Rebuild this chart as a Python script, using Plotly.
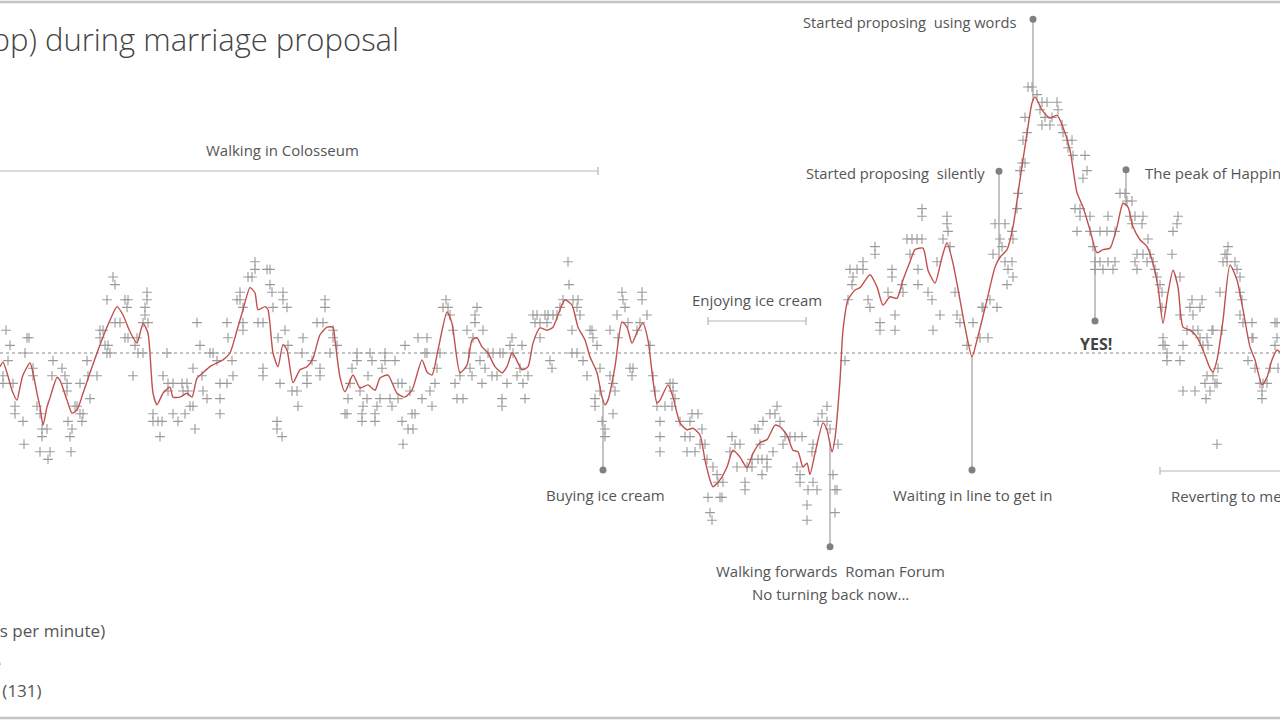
import numpy as np
import plotly.graph_objects as go

# ---------------- data ----------------
# time (seconds) and smoothed heart rate (moving average, bpm)
line_time = [0, 3, 7, 12, 17, 20, 23, 30, 33, 37, 40, 43, 47, 50, 53, 57, 60, 67, 72, 77, 83, 90, 97, 103, 110,
             117, 123, 130, 137, 143, 148, 153, 157, 163, 170, 173, 180, 187, 192, 197, 203, 210, 217, 223, 230,
             237, 243, 250, 255, 258, 265, 268, 273, 278, 283, 287, 293, 300, 307, 313, 320, 327, 333, 335, 340,
             345, 353, 360, 368, 375, 380, 388, 397, 405, 412, 422, 427, 432, 438, 447, 452, 460, 467, 472, 477,
             482, 488, 495, 502, 507, 512, 515, 522, 528, 533, 540, 547, 553, 560, 565, 572, 578, 585, 590, 597,
             602, 605, 608, 615, 622, 627, 632, 638, 643, 648, 653, 657, 660, 668, 673, 680, 687, 693, 700, 705,
             710, 713, 720, 727, 733, 740, 747, 753, 760, 767, 775, 780, 787, 793, 798, 803, 807, 810, 815, 823,
             827, 832, 835, 840, 843, 848, 855, 860, 870, 877, 883, 890, 897, 903, 910, 915, 923, 928, 935, 942,
             947, 953, 960, 965, 972, 977, 987, 995, 1000, 1007, 1013, 1020, 1027, 1032, 1035, 1042, 1050, 1057,
             1063, 1070, 1077, 1083, 1090, 1097, 1103, 1110, 1117, 1123, 1128, 1133, 1140, 1147, 1153, 1158, 1163,
             1168, 1173, 1178, 1183, 1190, 1197, 1203, 1210, 1213, 1217, 1223, 1230, 1237, 1243, 1250, 1255, 1262,
             1267, 1272, 1277, 1280]
line_bpm = [129.2, 129.8, 128.4, 126.1, 124.8, 126.5, 128.1, 129.7, 128.4, 125.7, 123.9, 121.5, 123.9, 125.1,
            126.4, 127.8, 127.4, 124.8, 123.1, 123.5, 125.7, 128.4, 131.0, 133.1, 135.3, 137.1, 136.0, 133.8,
            132.3, 134.9, 133.6, 125.7, 124.2, 125.7, 126.5, 125.2, 125.2, 125.7, 125.2, 127.7, 128.4, 129.2,
            129.7, 130.1, 131.0, 134.0, 136.7, 139.6, 138.9, 136.7, 137.1, 136.7, 131.0, 129.2, 132.1, 131.4,
            127.1, 128.8, 129.2, 130.3, 133.4, 134.4, 134.4, 132.7, 127.8, 125.9, 128.1, 126.4, 126.8, 126.1,
            127.7, 128.1, 125.7, 125.2, 126.1, 130.1, 128.5, 128.1, 131.4, 136.4, 134.9, 128.4, 129.4, 132.7,
            133.0, 131.8, 131.0, 129.2, 128.4, 129.2, 131.0, 130.5, 128.8, 129.2, 132.3, 134.3, 134.0, 134.4,
            136.7, 138.0, 137.3, 134.4, 132.7, 130.5, 128.4, 125.2, 124.2, 124.8, 129.2, 135.1, 134.4, 132.3,
            134.0, 134.9, 132.7, 127.4, 124.4, 124.8, 126.8, 125.2, 121.8, 120.9, 121.1, 120.2, 116.9, 114.3,
            113.4, 114.3, 116.0, 118.2, 117.3, 115.9, 117.8, 119.2, 119.6, 121.5, 121.3, 120.2, 118.2, 118.0,
            116.0, 116.5, 115.0, 117.8, 121.8, 120.9, 118.0, 119.8, 127.4, 134.0, 138.0, 139.3, 139.6, 141.3,
            139.7, 137.3, 138.4, 138.2, 140.6, 143.0, 144.6, 144.8, 141.9, 140.2, 143.6, 145.5, 142.8, 138.0,
            134.4, 130.5, 132.7, 138.0, 142.3, 143.6, 144.6, 147.6, 153.8, 159.9, 163.9, 164.7, 163.0, 161.9,
            162.3, 160.7, 157.7, 152.1, 150.2, 147.2, 144.2, 144.6, 144.8, 147.6, 150.7, 150.2, 147.6, 145.9,
            145.0, 142.8, 139.7, 134.9, 138.9, 141.9, 139.7, 134.4, 134.0, 133.1, 131.4, 129.0, 128.5, 130.1,
            135.3, 142.6, 140.6, 136.7, 131.8, 130.1, 126.8, 127.8, 130.1, 131.4, 131.1]

# individual heart-rate readings (bpm)
reading_time = [6, 3, 3, 10, 8, 13, 15, 15, 23, 24, 27, 29, 25, 33, 33, 37, 40, 42, 47, 42, 40, 50, 48, 53, 52,
                62, 65, 67, 67, 68, 72, 70, 71, 75, 77, 80, 83, 82, 80, 87, 88, 97, 90, 100, 103, 100, 105, 108,
                107, 110, 107, 113, 115, 115, 120, 125, 128, 127, 125, 128, 133, 135, 138, 143, 137, 143, 148, 147,
                147, 145, 145, 153, 153, 158, 162, 160, 163, 167, 168, 173, 168, 173, 178, 182, 187, 183, 188, 185,
                190, 193, 193, 195, 197, 200, 202, 203, 207, 210, 213, 217, 220, 227, 220, 220, 227, 228, 232, 233,
                237, 240, 240, 243, 243, 243, 248, 252, 255, 255, 267, 270, 270, 272, 273, 258, 263, 263, 263, 278,
                277, 277, 282, 283, 283, 287, 285, 288, 280, 292, 297, 298, 302, 303, 307, 307, 312, 317, 323, 325,
                325, 320, 320,
                333, 333, 337, 330, 345, 347, 348, 350, 352, 357, 357, 360, 362, 362, 363, 367, 368, 370, 372, 375,
                375, 377, 380, 382, 385, 385, 390, 392, 395, 398, 402, 398, 402, 403, 405, 408, 413, 410, 412, 415,
                418, 422, 425, 427, 427, 430, 432, 435, 437, 440, 443, 448, 446, 450, 453, 455, 457, 463, 460, 467,
                469, 470, 472, 475, 475, 477, 473, 480, 482, 483, 485, 488, 493, 492, 497, 500, 503, 502, 502, 507,
                510, 512, 513, 517, 520, 522, 523, 525, 528, 533, 537, 535, 540, 540, 545, 548, 547, 550, 552, 553,
                557, 560, 563, 568, 569, 573, 578, 577, 580, 572, 572, 577, 583, 587, 590, 592, 593, 597, 600, 600,
                595, 595, 602, 605, 605, 610, 610, 613, 615, 613, 617, 618, 622, 623, 625, 628, 630, 633, 632, 637,
                640, 642, 642, 647, 650, 653, 655, 657, 660,
                660, 660, 665, 672, 670, 673, 673, 675, 680, 685, 690, 687, 690, 692, 698, 695, 702, 700, 705, 707,
                708, 710, 712, 713, 717, 720, 722, 718, 723, 730, 732, 735, 740, 737, 745, 745, 747, 752, 752, 758,
                762, 767, 755, 758, 760, 762, 763, 767, 770, 775, 777, 780, 773, 785, 790, 795, 783, 802, 797, 800,
                800, 807, 807, 808, 817, 813, 812, 813, 818, 827, 822, 827, 830, 833, 835, 837, 835, 838,
                845, 848, 850, 852, 853, 857,
                863, 863, 875, 875, 868, 870, 880, 880, 888, 892, 892, 895, 895, 902, 903, 907, 912, 917, 922, 922,
                922, 910, 918, 918, 928, 932, 933, 937, 940, 943, 947, 947, 948, 950, 955, 957, 960, 967, 973, 980,
                988, 982, 983, 990, 997, 993, 995, 1000, 1002, 1005, 1005, 1008, 1007, 1012, 1013, 1012, 1013, 1017,
                1018, 1022, 1025, 1020, 1023, 1027, 1025, 1028, 1032, 1037, 1042, 1047, 1040, 1045, 1052, 1042, 1050,
                1057, 1058, 1062, 1063, 1067, 1072, 1068, 1073, 1085, 1087, 1083, 1075, 1080, 1080, 1090, 1077, 1090,
                1093, 1095, 1100, 1108, 1115, 1095, 1103, 1113, 1100, 1107, 1115, 1108, 1120, 1125, 1127, 1132, 1130,
                1135, 1132, 1142, 1143, 1137, 1143, 1150, 1135, 1147, 1153, 1137, 1148, 1155, 1157, 1160, 1162, 1162,
                1163, 1163, 1167, 1172, 1173, 1177, 1178, 1180, 1180, 1183, 1187, 1193, 1190, 1200, 1192, 1202, 1193,
                1198, 1200, 1207, 1203, 1208, 1212, 1220, 1223, 1227, 1235, 1225, 1227, 1228, 1237, 1240, 1240, 1242,
                1240, 1243, 1252, 1253, 1277, 1277,
                1165, 1167, 1180, 1183, 1195, 1205, 1215, 1207, 1213, 1210, 1206, 1217, 1218, 1217, 1213, 1222, 1248,
                1252, 1255, 1260, 1263, 1262, 1262, 1267, 1270, 1275, 1275, 1278]
reading_bpm = [134, 128, 127, 132, 130, 127, 124, 123, 122, 119, 133, 133, 131, 129, 128, 124, 123, 121, 121, 120,
               118, 118, 117, 130, 128, 129, 128, 127, 126, 122, 121, 120, 118, 124, 124, 123, 123, 122, 127, 130,
               128, 128, 125, 134, 134, 133, 132, 132, 131, 131, 138, 141, 140, 135, 135, 138, 138, 137, 133, 133,
               128, 132, 131, 131, 133, 135, 135, 139, 138, 137, 136, 123, 122, 122, 122, 120, 128, 131, 127, 127,
               126, 123, 122, 127, 127, 126, 126, 123, 124, 124, 129, 121, 135, 132, 128, 126, 125, 131, 131, 130,
               127, 127, 125, 123, 135, 133, 130, 128, 138, 138, 139, 137, 135, 134, 141, 141, 142, 143, 142, 142,
               140, 139, 137, 135, 135, 129, 128, 133, 122, 121, 120, 139, 138, 137, 134, 132, 127, 126, 126, 124,
               131, 133, 128, 127, 130, 135, 135, 138, 137, 129, 128,
               134, 133, 132, 131, 123, 123, 125, 127, 129, 131, 130, 126, 123, 122, 124, 125, 128, 131, 130, 123,
               122, 124, 125, 129, 131, 130, 125, 124, 130, 127, 127, 125, 122, 119, 132, 121, 121, 126, 123, 123,
               133, 125, 131, 131, 133, 126, 124, 127, 129, 131, 137, 137, 138, 136, 134, 127, 125, 125, 128, 134,
               131, 129, 128, 135, 136, 137, 133, 130, 127, 134, 129, 131, 131, 128, 128, 131, 131, 125, 124, 127,
               132, 133, 131, 128, 129, 132, 127, 125, 128, 136, 136, 135, 135, 133, 136, 136, 135, 130, 129, 136,
               136, 137, 138, 143, 140, 138, 138, 137, 136, 134, 131, 131, 130, 128, 134, 134, 133, 132, 129, 126,
               125, 124, 122, 121, 120, 134, 128, 127, 126, 123, 136, 133, 139, 138, 137, 135, 129, 129, 128, 134,
               135, 139, 138, 136, 132, 128, 126, 124, 120,
               122, 118, 124, 124, 127, 127, 126, 125, 122, 120, 120, 118, 122, 123, 123, 118, 121, 119, 119, 117,
               112, 110, 109, 116, 115, 112, 112, 114, 114, 118, 120, 119, 119, 116, 114, 113, 116, 116, 117, 117,
               117, 117, 121, 121, 119, 115, 122, 116, 123, 123, 124, 122, 118, 120, 120, 120, 119, 120, 116, 115,
               114, 111, 109, 113, 113, 114, 118, 119, 122, 122, 123, 124, 121, 115, 113, 113, 110, 119,
               130, 138, 142, 140, 141, 142,
               143, 142, 145, 144, 138, 137, 135, 134, 139, 142, 141, 136, 134, 140, 139, 146, 146, 146, 146, 150,
               149, 144, 142, 140, 139, 138, 134, 143, 136, 146, 149, 148, 147, 145, 139, 136, 135, 132, 135, 133,
               133, 137, 137, 138, 137, 144, 148, 146, 145, 148, 143, 142, 140, 143, 141, 147, 146, 150,
               152, 156, 156, 155, 159, 160, 162, 166, 166, 165, 164, 164, 163, 162, 162, 161, 161,
               164, 163, 161, 160, 159, 159, 158, 157, 157, 155, 154, 150, 150, 149, 149, 147, 147,
               145, 143, 143, 143, 143, 142, 142, 142, 147, 147, 147, 149, 152, 152, 151, 151, 149,
               149, 148, 148, 149, 144, 144, 144, 143, 143, 143, 142, 146, 142, 141, 140, 139, 137,
               133, 132, 131, 144, 147, 148, 149, 141, 136, 132, 134, 134, 137, 137, 138, 138, 136,
               134, 133, 133, 132, 132, 134, 139, 143, 143, 143, 144, 144, 145, 142, 141, 139, 138,
               136, 135, 135, 133, 135, 133,
               132, 130, 130, 126, 126, 127, 127, 128, 128, 126, 125, 127, 129, 119, 134, 134, 130,
               133, 129, 127, 127, 126, 125, 127, 129, 135, 132, 129]

average_bpm = 131

# events: (time, label level in bpm)
event_names = ["Buying ice cream", "Walking forwards  Roman Forum", "Waiting in line to get in",
               "Started proposing  silently", "Started proposing  using words", "YES!", "The peak of Happiness"]
event_time = [603, 830, 972, 999, 1033, 1095, 1126]
event_level = [115.6, 105.5, 115.6, 154.9, 174.9, 135.2, 155.1]

# ---------------- figure ----------------
W, H = 1280, 720
Y_BOTTOM = average_bpm - (H - 353) / 7.6
Y_TOP = average_bpm + 353 / 7.6


def py(p):
    """pixel row -> paper y"""
    return 1 - p / H


GRAY_TEXT = "#555555"
FONT = "Open Sans"

fig = go.Figure()

# event stems
shapes = []
for t, lvl in zip(event_time, event_level):
    val = float(np.interp(t, line_time, line_bpm))
    shapes.append(dict(type="line", xref="x", yref="y", x0=t, x1=t, y0=lvl, y1=val,
                       line=dict(color="#b0b0b0", width=1.5), layer="below"))

# average dotted line
shapes.append(dict(type="line", xref="paper", yref="y", x0=0, x1=1, y0=average_bpm, y1=average_bpm,
                   line=dict(color="#888888", width=1, dash="dot"), layer="below"))

# period brackets (colosseum, ice cream, reverting)
def bracket(x0, x1, p, tick0=True, tick1=True):
    out = [dict(type="line", xref="x", yref="paper", x0=x0, x1=x1, y0=py(p), y1=py(p),
                line=dict(color="#b5b5b5", width=1.2))]
    for flag, x in ((tick0, x0), (tick1, x1)):
        if flag:
            out.append(dict(type="line", xref="x", yref="paper", x0=x, x1=x, y0=py(p - 4), y1=py(p + 4),
                            line=dict(color="#b5b5b5", width=1.2)))
    return out

shapes += bracket(-40, 598, 171, tick0=False)
shapes += bracket(708, 806, 321)
shapes += bracket(1160, 1320, 471, tick1=False)

# frame lines
shapes.append(dict(type="line", xref="paper", yref="paper", x0=0, x1=1, y0=py(2), y1=py(2),
                   line=dict(color="#c4c4c4", width=2.5)))
shapes.append(dict(type="line", xref="paper", yref="paper", x0=0, x1=1, y0=py(718), y1=py(718),
                   line=dict(color="#c4c4c4", width=2.5)))

fig.add_trace(go.Scatter(x=reading_time, y=reading_bpm, mode="markers",
                         marker=dict(symbol="cross-thin", size=7, color="#9a9a9a",
                                     line=dict(color="#9a9a9a", width=1.1)),
                         hoverinfo="skip", showlegend=False))
fig.add_trace(go.Scatter(x=line_time, y=line_bpm, mode="lines",
                         line=dict(color="#c0504d", width=1.4, shape="spline", smoothing=0.6),
                         hoverinfo="skip", showlegend=False))
fig.add_trace(go.Scatter(x=event_time, y=event_level, mode="markers",
                         marker=dict(size=7, color="#808080"), hoverinfo="skip", showlegend=False))

ann = []
def label(text, x, p, anchor="center", size=15, weight=400, color=GRAY_TEXT):
    ann.append(dict(text=text, x=x, y=py(p), xref="x", yref="paper", xanchor=anchor, yanchor="middle",
                    showarrow=False, font=dict(family=FONT, size=size, color=color, weight=weight)))

label("Heart rate (bp) during marriage proposal", 401, 39, "right", size=31, weight=300, color="#444444")
label("Heart rate (beats per minute)", 107, 630, "right", size=17)
label("Moving average", 3, 662, "right", size=17)
label("Average (131)", 44, 690, "right", size=17)

label("Walking in Colosseum", 282, 150)
label("Enjoying ice cream", 757, 300)
label("Buying ice cream", 605, 495)
label("Walking forwards  Roman Forum", 830, 571)
label("No turning back now...", 830, 594)
label("Waiting in line to get in", 972, 495)
label("Reverting to mean", 1169, 496, "left")
label("Started proposing  using words", 1018, 22, "right", size=14.7)
label("Started proposing  silently", 987, 173, "right", size=14.7)
label("The peak of Happiness", 1143, 173, "left")
label("<b>YES!</b>", 1096, 344, size=16, color="#444444")

fig.update_layout(
    width=W, height=H,
    margin=dict(l=0, r=0, t=0, b=0),
    paper_bgcolor="white", plot_bgcolor="white",
    xaxis=dict(range=[0, W], visible=False, fixedrange=True),
    yaxis=dict(range=[Y_BOTTOM, Y_TOP], visible=False, fixedrange=True),
    shapes=shapes, annotations=ann, showlegend=False, hovermode=False,
)

fig.write_html("out.html", config={"displayModeBar": False})
